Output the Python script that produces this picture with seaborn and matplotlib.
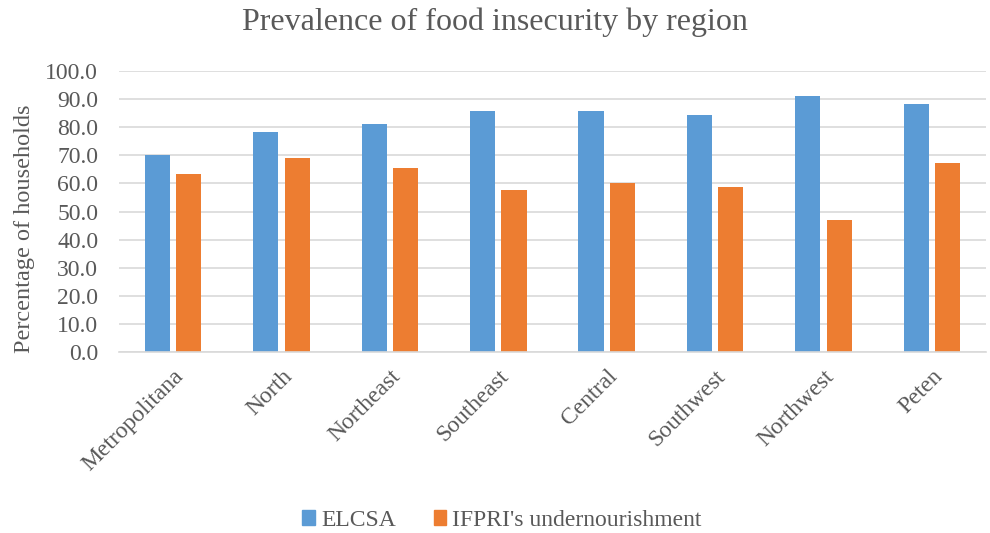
import numpy as np
import pandas as pd
from matplotlib import pyplot as plt
from matplotlib.ticker import FormatStrFormatter
import seaborn as sns

regions = ["Metropolitana", "North", "Northeast", "Southeast", "Central",
           "Southwest", "Northwest", "Peten"]
elcsa = [70.2, 78.4, 81.0, 85.7, 85.6, 84.5, 91.1, 88.1]
ifpri = [63.3, 69.0, 65.4, 57.6, 60.3, 58.7, 47.0, 67.4]
series = ["ELCSA", "IFPRI's undernourishment"]
colors = ["#5B9BD5", "#ED7D31"]

df = pd.DataFrame({
    "region": regions * 2,
    "value": elcsa + ifpri,
    "series": [series[0]] * len(regions) + [series[1]] * len(regions),
})

sns.set_style("white")
plt.rcParams["font.family"] = ["Liberation Serif", "DejaVu Serif"]
text_color = "#595959"

fig, ax = plt.subplots(figsize=(9.9, 5.33), dpi=100)
fig.subplots_adjust(left=119 / 990, right=986 / 990, top=1 - 71 / 533, bottom=1 - 352 / 533)

sns.barplot(
    data=df, x="region", y="value", hue="series",
    palette=colors, saturation=1, width=0.58, gap=0.2, ax=ax,
    edgecolor="none", legend=True,
)

ax.set_ylim(0, 100)
ax.set_yticks(np.arange(0, 101, 10))
ax.yaxis.set_major_formatter(FormatStrFormatter("%.1f"))
ax.grid(axis="y", color="#D9D9D9", linewidth=1.2)
ax.set_axisbelow(True)
for side in ["left", "right", "top"]:
    ax.spines[side].set_visible(False)
ax.spines["bottom"].set_color("#D9D9D9")
ax.spines["bottom"].set_linewidth(1.2)
ax.tick_params(axis="both", length=0, labelsize=17, colors=text_color)
ax.tick_params(axis="y", pad=15)
ax.tick_params(axis="x", pad=10)
plt.setp(ax.get_xticklabels(), rotation=45, ha="right", rotation_mode="anchor")

ax.set_xlabel("")
ax.set_ylabel("Percentage of households", fontsize=17.5, color=text_color)
ax.yaxis.set_label_coords(-0.097, 0.44)
ax.set_xlim(-0.5, len(regions) - 0.5)

fig.suptitle("Prevalence of food insecurity by region", fontsize=23,
             color=text_color, y=0.985)

ax.legend_.remove()
handles = [plt.Rectangle((0, 0), 1, 1, color=c) for c in colors]
fig.legend(handles, series, loc="lower center", ncol=2, frameon=False,
           fontsize=17, labelcolor=text_color, bbox_to_anchor=(0.507, -0.036),
           handlelength=0.55, handleheight=0.55, handletextpad=0.25, columnspacing=1.6)

fig.savefig("out.png", dpi=100)
